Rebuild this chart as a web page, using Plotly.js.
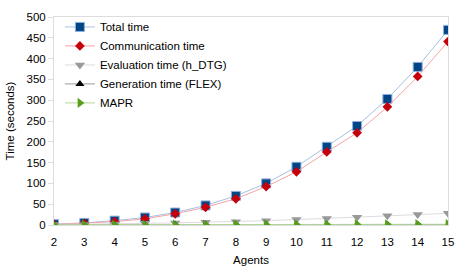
<!DOCTYPE html>
<html>
<head>
<meta charset="utf-8">
<script src="https://cdn.plot.ly/plotly-3.0.1.min.js"></script>
<style>html,body{margin:0;padding:0;background:#fff}#chart{width:463px;height:269px}</style>
</head>
<body>
<div id="chart"></div>
<script>
var agents = [2,3,4,5,6,7,8,9,10,11,12,13,14,15];
var totalTime = [2,5,10.5,18,30,47,70,100,140,188,238,303,380,469];
var commTime = [1.5,4,8,15,27,42.5,63,92.5,128,175.5,221.5,284,357,441];
var evalTime = [1,1.5,2.5,4,5,6.5,8,10.5,13,15.5,18.5,22,25,28];
var genTime = [0.3,0.3,0.4,0.4,0.5,0.5,0.6,0.6,0.7,0.7,0.8,0.8,0.9,0.9];
var maprTime = [0.5,0.6,0.7,0.8,0.9,1,1.1,1.2,1.3,1.4,1.5,1.6,1.7,1.8];
var names = ["Total time","Communication time","Evaluation time (h_DTG)","Generation time (FLEX)","MAPR"];

function tr(y, name, lineColor, mColor, symbol, size, mLine) {
  return {x: agents, y: y, name: name, type: 'scatter', mode: 'lines+markers',
    line: {color: lineColor, width: 1},
    marker: {color: mColor, symbol: symbol, size: size, line: {color: mLine, width: mLine ? 1 : 0}}};
}
var data = [
  tr(totalTime, names[0], '#a7c1e3', '#004586', 'square', 9, '#8fb0dc'),
  tr(commTime, names[1], '#f2a5a5', '#c5000b', 'diamond', 7.5, null),
  tr(evalTime, names[2], '#dcdcdc', '#999999', 'triangle-down', 9, null),
  tr(genTime, names[3], '#999999', '#000000', 'triangle-up', 8, null),
  tr(maprTime, names[4], '#b3d69a', '#579d1c', 'triangle-right', 9, null)
];
var font = {family: 'Liberation Sans, Arial, sans-serif', size: 11.5, color: '#000'};
var layout = {
  width: 463, height: 269,
  margin: {l: 54, r: 15, t: 15, b: 44},
  paper_bgcolor: '#fff', plot_bgcolor: '#fff',
  font: font,
  showlegend: true,
  legend: {x: 0.015, y: 1.022, xanchor: 'left', yanchor: 'top', bgcolor: 'rgba(0,0,0,0)', font: font, tracegroupgap: 0},
  xaxis: {range: [2, 15], tickvals: agents, ticktext: agents.map(String), showgrid: false, zeroline: false,
    showline: true, linecolor: '#dddddd', linewidth: 1, mirror: true, ticks: 'outside', ticklen: 6, tickcolor: 'rgba(0,0,0,0)',
    title: {text: 'Agents', font: font, standoff: 9}, tickfont: font},
  yaxis: {range: [0, 500], dtick: 50, showgrid: false, zeroline: false,
    showline: true, linecolor: '#dddddd', linewidth: 1, mirror: true, ticks: 'outside', ticklen: 5, tickcolor: '#dddddd',
    title: {text: 'Time (seconds)', font: font, standoff: 9}, tickfont: font}
};
Plotly.newPlot('chart', data, layout, {displayModeBar: false, staticPlot: true});
</script>
</body>
</html>
